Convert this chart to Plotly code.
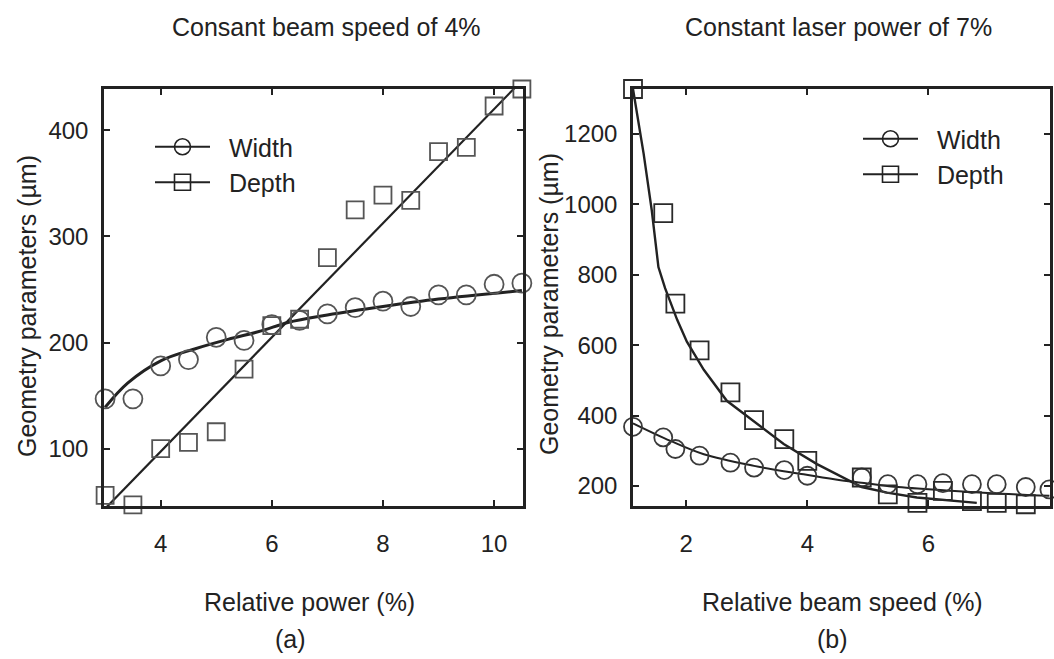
import plotly.graph_objects as go

# ---------------- data: panel (a) constant beam speed ----------------
power = [3.0, 3.5, 4.0, 4.5, 5.0, 5.5, 6.0, 6.5, 7.0, 7.5, 8.0, 8.5, 9.0, 9.5, 10.0, 10.5]
width_a = [147, 147, 178, 184, 205, 202, 217, 221, 227, 233, 239, 234, 245, 245, 255, 256]
depth_a = [56, 47, 100, 106, 116, 175, 216, 222, 280, 325, 339, 334, 380, 384, 423, 439]
fit_width_a_x = [3.0, 3.41, 4.01, 4.61, 5.21, 5.81, 6.29, 7.0, 8.0, 9.0, 10.5]
fit_width_a_y = [139, 162, 183, 194, 203, 211, 219, 226, 234, 241, 249]
fit_depth_a_x = [3.0, 10.5]
fit_depth_a_y = [43.5, 447]

# ---------------- data: panel (b) constant laser power ----------------
speed = [1.12, 1.62, 1.82, 2.22, 2.73, 3.12, 3.62, 4.0, 4.9, 5.33, 5.82, 6.24, 6.72, 7.13, 7.61, 8.0]
width_b = [368, 338, 305, 286, 266, 252, 245, 229, 224, 205, 205, 208, 205, 205, 197, 190]
depth_b = [1328, 975, 718, 585, 466, 387, 333, 271, 224, 176, 152, 186, 157, 152, 148, 134]
fit_width_b_x = [1.12, 1.74, 2.29, 3.12, 3.94, 4.55, 5.0, 5.5, 6.5, 7.2, 8.0]
fit_width_b_y = [378, 328, 290, 257, 233, 216, 207, 197, 185, 178, 172]
fit_depth_b_x = [1.12, 1.295, 1.43, 1.54, 1.65, 1.85, 2.01, 2.29, 2.67, 3.11, 3.61, 4.16, 4.9, 5.32, 5.81, 6.8]
fit_depth_b_y = [1328, 1145, 983, 822, 762, 672, 610, 530, 442, 385, 319, 262, 197, 181, 167, 152]

ticks_a_x = [4, 6, 8, 10]
ticks_a_y = [100, 200, 300, 400]
ticks_b_x = [2, 4, 6, 8]
ticks_b_y = [200, 400, 600, 800, 1000, 1200]

W, H = 1054, 659
FONT = "Liberation Sans, Arial, sans-serif"
INK = "#222222"

fig = go.Figure()

def markers(x, y, sym, col, xa, ya, size):
    fig.add_trace(go.Scatter(x=x, y=y, mode="markers", xaxis=xa, yaxis=ya, showlegend=False,
                             cliponaxis=False,
                             marker=dict(symbol=sym, size=size, color=col,
                                         line=dict(color=col, width=1.8))))

def fit(x, y, xa, ya, w, shape):
    fig.add_trace(go.Scatter(x=x, y=y, mode="lines", xaxis=xa, yaxis=ya, showlegend=False,
                             line=dict(color=INK, width=w, shape=shape)))

# panel (a)
fit(fit_depth_a_x, fit_depth_a_y, "x", "y", 2.2, "linear")
fit(fit_width_a_x, fit_width_a_y, "x", "y", 3.0, "spline")
markers(power, width_a, "circle-open", "#555555", "x", "y", 19)
markers(power, depth_a, "square-open", "#555555", "x", "y", 17)
# panel (b)
fit(fit_depth_b_x, fit_depth_b_y, "x2", "y2", 2.4, "linear")
fit(fit_width_b_x, fit_width_b_y, "x2", "y2", 2.0, "spline")
markers(speed, width_b, "circle-open", "#3a3a3a", "x2", "y2", 18)
markers(speed, depth_b, "square-open", "#2a2a2a", "x2", "y2", 18)

# legend entries
NB = "\u00a0\u00a0"
for leg in ("legend", "legend2"):
    for name, sym in (("Width", "circle-open"), ("Depth", "square-open")):
        fig.add_trace(go.Scatter(x=[None], y=[None], mode="lines+markers", name=NB + name,
                                 xaxis="x" if leg == "legend" else "x2",
                                 yaxis="y" if leg == "legend" else "y2", legend=leg,
                                 line=dict(color=INK, width=2),
                                 marker=dict(symbol=sym, size=19, color=INK,
                                             line=dict(color=INK, width=1.6))))

def ax(domain, rng, tickvals, anchor, standoff):
    return dict(domain=domain, range=rng, tickvals=tickvals, anchor=anchor,
                showline=True, linecolor=INK, linewidth=2.5, mirror="allticks",
                ticks="inside", ticklen=6, tickwidth=1.5, tickcolor=INK,
                showgrid=False, zeroline=False, ticklabelstandoff=standoff,
                tickfont=dict(family=FONT, size=24, color=INK))

def px(v):
    return v / W

def py(v):
    return 1 - v / H

ydom = [py(506), py(89)]
legfont = dict(family=FONT, size=25, color=INK)
fig.update_layout(
    width=W, height=H, margin=dict(l=0, r=0, t=0, b=0),
    plot_bgcolor="white", paper_bgcolor="white",
    xaxis=ax([px(104), px(523)], [2.98, 10.52], ticks_a_x, "y", 14),
    yaxis=ax(ydom, [46, 439], ticks_a_y, "x", 8),
    xaxis2=ax([px(633), px(1050)], [1.12, 8.01], ticks_b_x, "y2", 14),
    yaxis2=ax(ydom, [143, 1328], ticks_b_y, "x2", 8),
    legend=dict(x=px(150), y=py(124), xanchor="left", yanchor="top",
                bgcolor="rgba(0,0,0,0)", font=legfont, itemwidth=55, tracegroupgap=0),
    legend2=dict(x=px(858), y=py(116), xanchor="left", yanchor="top",
                 bgcolor="rgba(0,0,0,0)", font=legfont, itemwidth=55, tracegroupgap=0),
)

def note(text, x, y, size=25, angle=0):
    fig.add_annotation(text=text, x=px(x), y=py(y), xref="paper", yref="paper",
                       xanchor="center", yanchor="middle", showarrow=False, textangle=angle,
                       font=dict(family=FONT, size=size, color=INK))

note("Consant beam speed of 4%", 326, 27)
note("Constant laser power of 7%", 838, 27)
note("Relative power (%)", 309, 602)
note("Relative beam speed (%)", 842, 602)
note("(a)", 290, 639)
note("(b)", 832, 639)
note("Geometry parameters (\u00b5m)", 27, 306, angle=-90)
note("Geometry parameters (\u00b5m)", 549, 304, angle=-90)

fig.write_html("out.html", config={"displayModeBar": False},
               post_script="document.body.style.margin='0';")
